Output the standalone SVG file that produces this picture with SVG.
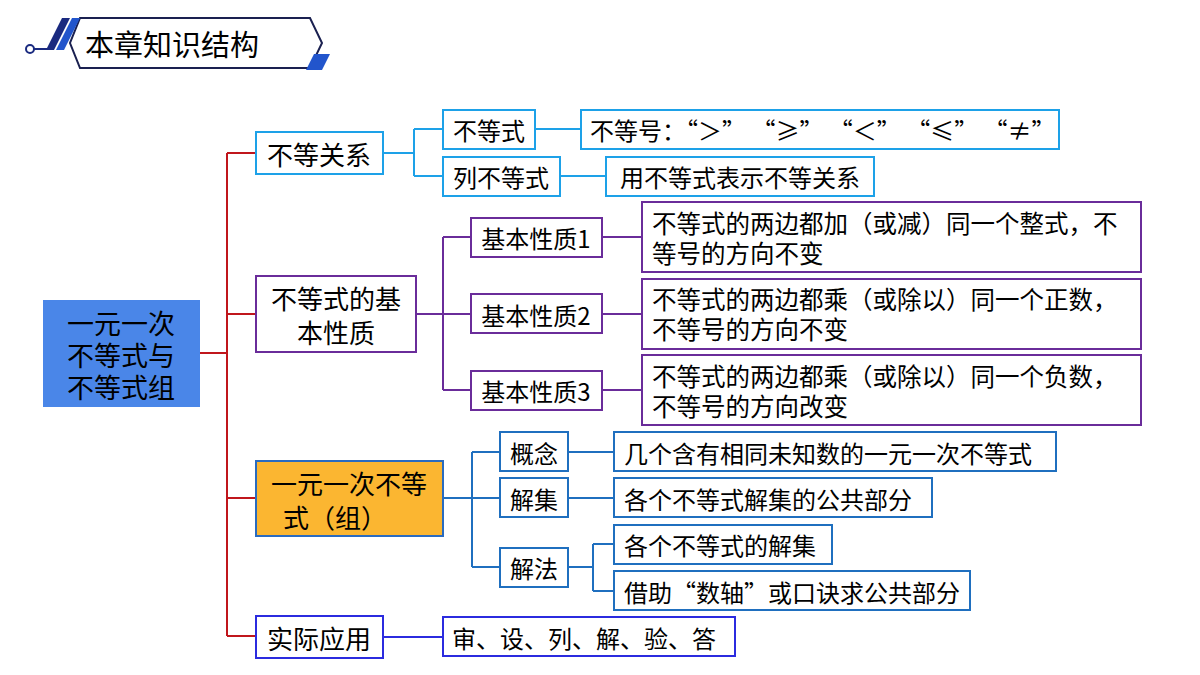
<svg xmlns="http://www.w3.org/2000/svg" width="1200" height="675" viewBox="0 0 1200 675">
<style>
text{font-family:"Noto Sans CJK SC","Liberation Sans",sans-serif;fill:#000}
.t{font-size:24px;dominant-baseline:central}
.m{font-size:26px}
.r{font-size:27px}
.q{font-size:24.5px}
.b{fill:#fff;stroke-width:2}
.cb{stroke:#1da1e8}.cp{stroke:#6a2c9a}.co{stroke:#1f6fbf}.cu{stroke:#2b2bdf}
.l{fill:none;stroke-width:2}
</style>
<rect width="1200" height="675" fill="#fff"/>
<g id="header">
<polygon points="80,18 310,18 322,43 310,68 80,68 70,43" fill="#fff" stroke="#1a2050" stroke-width="2"/>
<polygon points="62,18 70,18 54,50 46,50" fill="#1a2a80"/>
<polygon points="72,18 80,18 64,50 56,50" fill="#2255cc"/>
<polygon points="314,54 330,54 322,70 306,70" fill="#2255cc"/>
<line x1="33" y1="49" x2="50" y2="49" stroke="#1a2a80" stroke-width="2"/>
<circle cx="30" cy="49" r="4" fill="#fff" stroke="#1a2a80" stroke-width="2"/>
<text x="85" y="56" font-size="29">本章知识结构</text>
</g>
<g id="connectors">
<path class="l" stroke="#c0161c" d="M200,353H227M227,153V636M227,153H256M227,314H256M227,498H256M227,636H256"/>
<path class="l" stroke="#1da1e8" d="M383,153H414M414,129V176M414,129H443M414,176H443M535,129H581M560,176H606"/>
<path class="l" stroke="#6a2c9a" d="M416,314H471M443,237V390M443,237H471M443,390H471M602,237H642M602,314H642M602,390H642"/>
<path class="l" stroke="#1f6fbf" d="M443,498H500M472,452V567M472,452H500M472,567H500M568,452H614M568,498H614M568,567H593M593,544V591M593,544H614M593,591H614"/>
<path class="l" stroke="#2b2bdf" d="M383,637H443"/>
</g>
<g id="root"><rect x="43" y="300" width="157" height="107" fill="#4a86e8"/>
<text class="t r" x="121" y="322" text-anchor="middle">一元一次</text>
<text class="t r" x="121" y="354" text-anchor="middle">不等式与</text>
<text class="t r" x="121" y="386" text-anchor="middle">不等式组</text></g>
<g id="n1"><rect class="b cb" x="256" y="132" width="127" height="42"/><text class="t m" x="319" y="153" text-anchor="middle">不等关系</text></g>
<g id="n2"><rect class="b cp" x="256" y="276" width="160" height="76"/><text class="t m" x="336" y="297" text-anchor="middle">不等式的基</text><text class="t m" x="336" y="331" text-anchor="middle">本性质</text></g>
<g id="n3"><rect x="256" y="461" width="187" height="75" fill="#fbb631" stroke="#2a6bbf" stroke-width="2"/><text class="t m" x="349" y="482" text-anchor="middle">一元一次不等</text><text class="t m" x="335" y="516" text-anchor="middle">式（组）</text></g>
<g id="n4"><rect class="b cu" x="256" y="616" width="127" height="42"/><text class="t m" x="319" y="637" text-anchor="middle">实际应用</text></g>
<g id="a1"><rect class="b cb" x="443" y="110" width="92" height="39"/><text class="t" x="489" y="129" text-anchor="middle">不等式</text></g>
<g id="a2"><rect class="b cb" x="581" y="110" width="478" height="39"/><text class="t" x="590" y="129" xml:space="preserve">不等号：“＞” “≥” “＜” “≤” “≠”</text></g>
<g id="a3"><rect class="b cb" x="443" y="157" width="117" height="39"/><text class="t" x="501" y="176" text-anchor="middle">列不等式</text></g>
<g id="a4"><rect class="b cb" x="606" y="157" width="268" height="39"/><text class="t" x="740" y="176" text-anchor="middle">用不等式表示不等关系</text></g>
<g id="p1"><rect class="b cp" x="471" y="218" width="131" height="39"/><text class="t" x="536" y="237" text-anchor="middle">基本性质1</text></g>
<g id="p2"><rect class="b cp" x="471" y="294" width="131" height="39"/><text class="t" x="536" y="314" text-anchor="middle">基本性质2</text></g>
<g id="p3"><rect class="b cp" x="471" y="371" width="131" height="39"/><text class="t" x="536" y="390" text-anchor="middle">基本性质3</text></g>
<g id="q1"><rect class="b cp" x="642" y="202" width="499" height="70"/><text class="t q" x="652" y="222">不等式的两边都加（或减）同一个整式，不</text><text class="t q" x="652" y="252">等号的方向不变</text></g>
<g id="q2"><rect class="b cp" x="642" y="279" width="499" height="70"/><text class="t q" x="652" y="298">不等式的两边都乘（或除以）同一个正数，</text><text class="t q" x="652" y="328">不等号的方向不变</text></g>
<g id="q3"><rect class="b cp" x="642" y="355" width="499" height="70"/><text class="t q" x="652" y="375">不等式的两边都乘（或除以）同一个负数，</text><text class="t q" x="652" y="405">不等号的方向改变</text></g>
<g id="o1"><rect class="b co" x="500" y="432" width="68" height="39"/><text class="t" x="534" y="452" text-anchor="middle">概念</text></g>
<g id="o2"><rect class="b co" x="500" y="478" width="68" height="39"/><text class="t" x="534" y="498" text-anchor="middle">解集</text></g>
<g id="o3"><rect class="b co" x="500" y="548" width="68" height="39"/><text class="t" x="534" y="567" text-anchor="middle">解法</text></g>
<g id="r1"><rect class="b co" x="614" y="432" width="442" height="39"/><text class="t" x="624" y="452">几个含有相同未知数的一元一次不等式</text></g>
<g id="r2"><rect class="b co" x="614" y="478" width="318" height="39"/><text class="t" x="624" y="498">各个不等式解集的公共部分</text></g>
<g id="r3"><rect class="b co" x="614" y="525" width="218" height="39"/><text class="t" x="624" y="544">各个不等式的解集</text></g>
<g id="r4"><rect class="b co" x="614" y="571" width="356" height="39"/><text class="t" x="624" y="591">借助“数轴”或口诀求公共部分</text></g>
<g id="u1"><rect class="b cu" x="443" y="617" width="292" height="39"/><text class="t" x="452" y="637">审、设、列、解、验、答</text></g>
</svg>
